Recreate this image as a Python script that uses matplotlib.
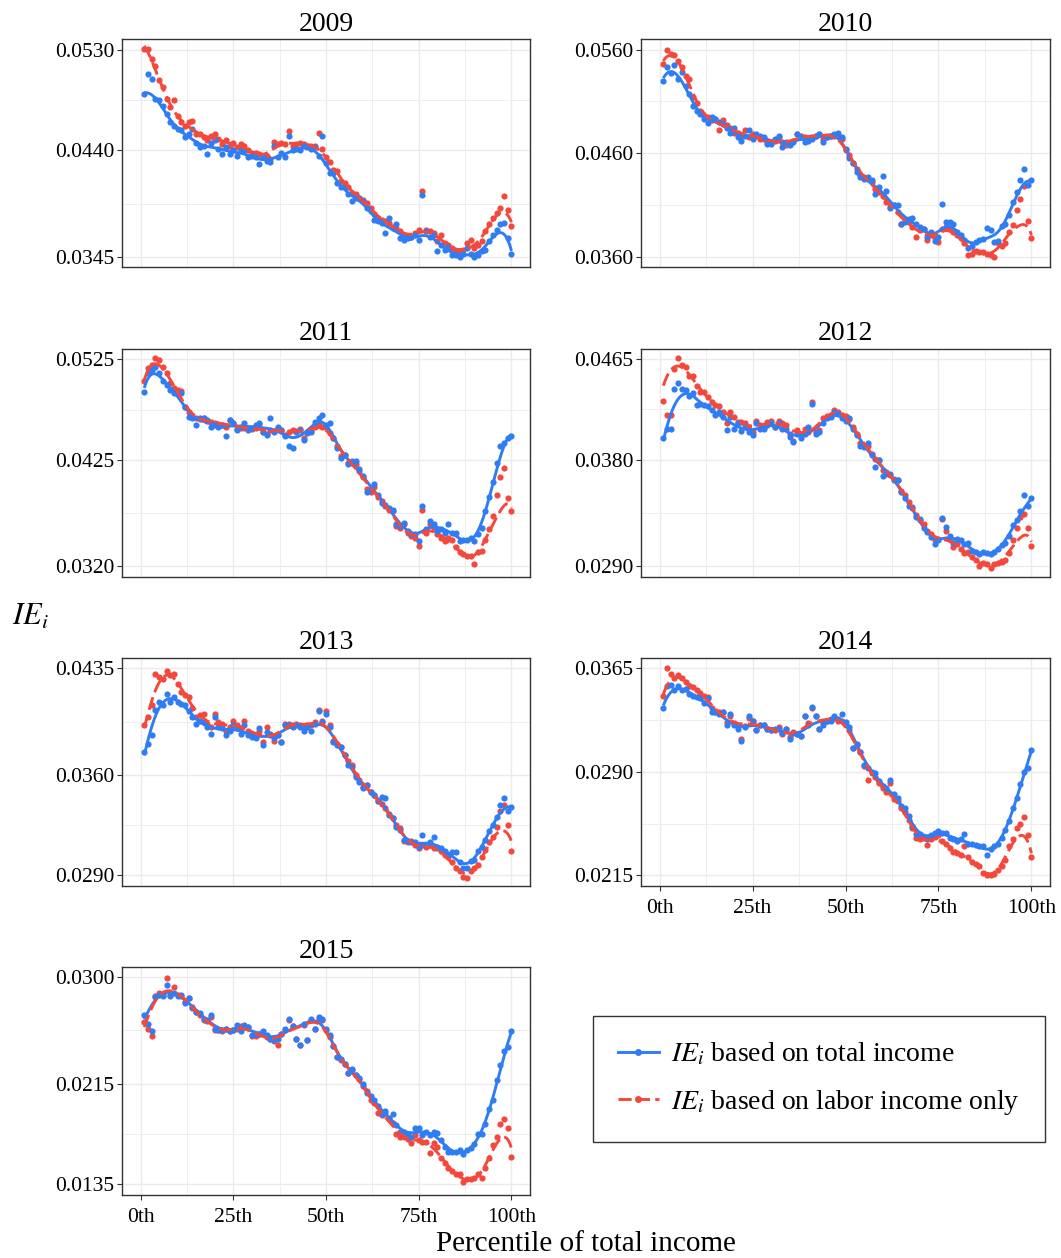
import numpy as np
import matplotlib
matplotlib.use("Agg")
import matplotlib.pyplot as plt
from matplotlib.lines import Line2D

plt.rcParams['font.family'] = ['Liberation Serif', 'DejaVu Serif']
plt.rcParams['mathtext.fontset'] = 'stix'

# values are IE_i in units of 1e-4, percentiles 1..100
pct = np.arange(1, 101)

years = ['2009', '2010', '2011', '2012', '2013', '2014', '2015']
yticks = [
    [0.0345, 0.0440, 0.0530],
    [0.0360, 0.0460, 0.0560],
    [0.0320, 0.0425, 0.0525],
    [0.0290, 0.0380, 0.0465],
    [0.0290, 0.0360, 0.0435],
    [0.0215, 0.0290, 0.0365],
    [0.0135, 0.0215, 0.0300],
]
xtick_vals = [0, 25, 50, 75, 100]
xtick_labels = ['0th', '25th', '50th', '75th', '100th']

tot_2009 = [490, 508, 504, 486, 485, 480, 473, 465, 462, 459,
            458, 452, 455, 459, 447, 443, 444, 437, 447, 449,
            441, 437, 443, 437, 440, 435, 440, 440, 434, 435,
            434, 428, 434, 431, 430, 444, 434, 438, 434, 453,
            440, 441, 440, 444, 443, 441, 443, 435, 453, 429,
            420, 420, 411, 407, 407, 401, 395, 398, 398, 395,
            389, 386, 378, 377, 375, 366, 380, 371, 374, 362,
            360, 362, 363, 365, 360, 400, 368, 363, 365, 350,
            356, 351, 354, 347, 347, 345, 348, 353, 348, 345,
            347, 350, 351, 359, 365, 369, 374, 375, 362, 348]
lab_2009 = [531, 531, 522, 515, 503, 497, 486, 479, 485, 471,
            465, 462, 465, 466, 455, 455, 452, 449, 453, 455,
            450, 446, 449, 444, 447, 443, 446, 444, 440, 438,
            438, 437, 434, 435, 432, 448, 446, 447, 446, 457,
            444, 446, 447, 446, 444, 444, 444, 456, 441, 434,
            430, 423, 422, 413, 411, 407, 402, 401, 398, 396,
            393, 389, 383, 380, 378, 377, 375, 372, 371, 368,
            365, 363, 363, 366, 369, 404, 369, 368, 366, 359,
            365, 357, 356, 353, 350, 350, 351, 357, 360, 353,
            356, 359, 368, 374, 380, 384, 389, 399, 387, 373]

tot_2010 = [530, 543, 537, 545, 532, 538, 525, 517, 506, 501,
            498, 493, 489, 495, 493, 490, 488, 484, 480, 484,
            476, 472, 477, 482, 474, 479, 477, 476, 469, 469,
            474, 477, 466, 471, 468, 471, 479, 476, 471, 472,
            474, 477, 479, 471, 476, 477, 479, 480, 476, 464,
            455, 451, 442, 437, 435, 437, 434, 421, 427, 438,
            424, 407, 410, 410, 392, 394, 397, 398, 392, 389,
            387, 379, 384, 375, 379, 411, 394, 394, 392, 384,
            381, 376, 369, 371, 374, 376, 377, 388, 386, 374,
            375, 390, 392, 400, 413, 423, 434, 445, 429, 434]
lab_2010 = [546, 560, 556, 555, 549, 543, 535, 532, 514, 509,
            501, 496, 495, 492, 493, 482, 492, 487, 484, 480,
            480, 477, 482, 476, 479, 477, 474, 474, 471, 471,
            472, 476, 471, 468, 469, 472, 479, 477, 476, 474,
            476, 477, 479, 474, 476, 477, 477, 477, 474, 463,
            458, 451, 445, 439, 437, 435, 432, 426, 423, 419,
            413, 408, 410, 403, 392, 395, 394, 389, 379, 386,
            387, 376, 381, 378, 374, 387, 389, 387, 384, 381,
            378, 373, 362, 363, 366, 365, 365, 363, 362, 360,
            373, 371, 373, 384, 391, 405, 416, 428, 395, 378]

tot_2011 = [492, 511, 514, 517, 511, 503, 499, 494, 491, 491,
            491, 478, 468, 467, 460, 467, 467, 465, 458, 460,
            458, 460, 449, 465, 462, 455, 458, 462, 455, 457,
            460, 462, 453, 450, 467, 453, 458, 455, 449, 439,
            437, 453, 455, 445, 452, 453, 463, 467, 470, 460,
            462, 447, 437, 427, 430, 421, 424, 424, 416, 409,
            394, 396, 401, 391, 383, 381, 378, 376, 362, 360,
            363, 355, 352, 352, 345, 380, 357, 365, 362, 355,
            357, 353, 362, 353, 353, 345, 346, 346, 348, 345,
            352, 358, 375, 389, 403, 422, 439, 442, 447, 449]
lab_2011 = [503, 516, 519, 526, 524, 517, 511, 501, 496, 494,
            493, 478, 473, 468, 467, 466, 467, 464, 463, 462,
            461, 460, 458, 465, 462, 456, 457, 457, 456, 456,
            457, 461, 453, 451, 455, 454, 457, 455, 450, 453,
            455, 454, 456, 447, 453, 454, 458, 460, 458, 458,
            452, 447, 439, 429, 430, 422, 422, 421, 414, 408,
            396, 394, 398, 389, 385, 380, 376, 375, 360, 358,
            362, 353, 350, 348, 340, 376, 353, 362, 358, 352,
            348, 345, 348, 346, 339, 334, 332, 330, 330, 322,
            334, 335, 346, 357, 370, 391, 408, 417, 388, 375]

tot_2012 = [398, 406, 406, 440, 445, 440, 439, 434, 436, 426,
            427, 426, 425, 422, 418, 420, 416, 405, 416, 406,
            411, 404, 409, 403, 401, 411, 406, 406, 409, 411,
            408, 411, 406, 406, 399, 395, 402, 398, 402, 408,
            427, 402, 403, 411, 415, 416, 420, 419, 415, 413,
            415, 406, 401, 392, 391, 394, 384, 374, 380, 366,
            370, 368, 363, 363, 353, 348, 341, 340, 332, 330,
            322, 319, 315, 309, 312, 331, 323, 316, 310, 313,
            312, 309, 310, 303, 302, 300, 302, 301, 300, 302,
            305, 308, 310, 316, 325, 329, 337, 350, 341, 348]
lab_2012 = [430, 418, 418, 457, 466, 460, 458, 451, 451, 442,
            437, 437, 433, 429, 426, 425, 420, 411, 420, 416,
            412, 412, 411, 406, 403, 413, 409, 408, 412, 413,
            408, 413, 411, 409, 402, 396, 405, 401, 406, 403,
            429, 403, 405, 415, 417, 418, 422, 420, 418, 417,
            414, 408, 402, 394, 392, 392, 385, 381, 380, 371,
            368, 367, 364, 363, 354, 350, 344, 339, 333, 329,
            326, 320, 317, 312, 313, 330, 320, 313, 306, 309,
            305, 301, 302, 298, 295, 290, 293, 292, 289, 292,
            293, 294, 295, 301, 312, 322, 332, 334, 322, 307]

tot_2013 = [376, 382, 388, 406, 411, 409, 417, 411, 415, 411,
            410, 409, 405, 401, 396, 398, 397, 394, 389, 401,
            394, 393, 388, 391, 395, 393, 389, 395, 388, 387,
            386, 393, 381, 390, 388, 386, 388, 383, 395, 395,
            394, 395, 394, 391, 394, 391, 396, 405, 397, 403,
            394, 383, 381, 380, 374, 367, 366, 359, 355, 351,
            353, 348, 346, 342, 345, 344, 332, 330, 324, 322,
            315, 314, 313, 313, 310, 318, 311, 313, 317, 310,
            309, 307, 304, 306, 306, 299, 295, 295, 300, 301,
            307, 310, 315, 321, 325, 331, 339, 344, 335, 338]
lab_2013 = [395, 401, 409, 431, 429, 427, 433, 430, 431, 424,
            418, 416, 415, 407, 401, 402, 403, 396, 394, 403,
            397, 396, 391, 394, 398, 395, 393, 398, 391, 389,
            388, 391, 383, 394, 389, 384, 388, 383, 396, 396,
            395, 396, 395, 394, 395, 395, 397, 406, 398, 405,
            395, 384, 382, 380, 374, 370, 367, 360, 357, 352,
            353, 348, 346, 342, 340, 337, 333, 330, 325, 323,
            314, 313, 314, 311, 309, 311, 310, 311, 309, 309,
            307, 304, 303, 299, 295, 293, 289, 288, 293, 295,
            297, 303, 308, 313, 317, 324, 335, 339, 325, 307]

tot_2014 = [336, 352, 353, 349, 352, 349, 350, 346, 345, 344,
            343, 340, 343, 333, 333, 332, 333, 324, 332, 324,
            321, 312, 322, 330, 327, 320, 324, 324, 321, 320,
            321, 321, 318, 321, 314, 318, 317, 316, 330, 324,
            337, 330, 321, 324, 327, 327, 330, 328, 332, 326,
            322, 307, 310, 304, 295, 293, 290, 289, 283, 280,
            278, 284, 274, 271, 265, 264, 258, 251, 245, 245,
            243, 241, 244, 246, 247, 246, 246, 242, 241, 240,
            241, 245, 238, 238, 237, 236, 236, 230, 234, 236,
            238, 242, 248, 254, 264, 271, 281, 290, 293, 306]
lab_2014 = [345, 365, 361, 358, 360, 358, 355, 352, 351, 349,
            347, 345, 344, 336, 333, 333, 333, 326, 330, 325,
            323, 314, 323, 329, 327, 320, 324, 324, 321, 320,
            320, 322, 317, 321, 315, 319, 317, 316, 330, 325,
            336, 330, 321, 325, 327, 328, 329, 327, 327, 324,
            320, 307, 309, 304, 294, 284, 289, 286, 282, 278,
            275, 282, 270, 269, 264, 261, 255, 249, 242, 241,
            242, 237, 241, 243, 244, 240, 238, 235, 232, 231,
            230, 236, 228, 225, 223, 222, 217, 215, 215, 216,
            219, 222, 226, 236, 241, 249, 252, 257, 244, 228]

tot_2015 = [270, 263, 257, 284, 286, 285, 294, 285, 287, 285,
            286, 279, 283, 276, 272, 271, 267, 266, 270, 259,
            258, 258, 259, 257, 258, 262, 257, 262, 260, 254,
            255, 255, 257, 254, 251, 250, 251, 255, 259, 267,
            261, 251, 246, 263, 250, 267, 259, 268, 267, 259,
            254, 245, 236, 235, 231, 224, 227, 222, 220, 215,
            208, 205, 202, 197, 191, 193, 188, 191, 182, 177,
            177, 174, 173, 180, 180, 174, 177, 174, 177, 176,
            170, 165, 161, 161, 161, 162, 159, 162, 164, 167,
            175, 175, 183, 195, 202, 218, 230, 241, 244, 257]
lab_2015 = [264, 259, 253, 285, 287, 286, 299, 286, 292, 286,
            285, 280, 283, 275, 272, 270, 266, 265, 268, 258,
            258, 257, 259, 257, 258, 259, 261, 261, 260, 253,
            253, 255, 255, 252, 251, 249, 246, 255, 258, 266,
            261, 251, 246, 262, 250, 266, 259, 267, 266, 258,
            252, 245, 236, 234, 231, 224, 226, 222, 219, 213,
            209, 202, 200, 192, 190, 192, 187, 184, 175, 173,
            173, 171, 168, 174, 170, 169, 169, 160, 168, 165,
            156, 152, 148, 146, 143, 143, 137, 139, 139, 140,
            143, 140, 148, 156, 166, 173, 183, 187, 180, 157]

total_series = [tot_2009, tot_2010, tot_2011, tot_2012, tot_2013, tot_2014, tot_2015]
labor_series = [lab_2009, lab_2010, lab_2011, lab_2012, lab_2013, lab_2014, lab_2015]

BLUE = '#2F7DF5'
RED = '#F5483C'
GRID = '#EBEBEB'


def local_fit(x, y, xs, bw, rw):
    out = np.empty(len(xs))
    for i, x0 in enumerate(xs):
        w = np.exp(-0.5 * ((x - x0) / bw) ** 2) * rw
        X = np.vstack([np.ones_like(x), x - x0, (x - x0) ** 2]).T
        sw = np.sqrt(w)
        coef = np.linalg.lstsq(X * sw[:, None], y * sw, rcond=None)[0]
        out[i] = coef[0]
    return out


def smooth(x, y, xs, bw=3.0, iters=2):
    # kernel local quadratic with a couple of robustness passes
    rw = np.ones_like(y)
    for _ in range(iters):
        res = y - local_fit(x, y, x, bw, rw)
        s = 6 * np.median(np.abs(res)) + 1e-9
        u = res / s
        rw = np.where(np.abs(u) < 1, (1 - u ** 2) ** 2, 0.0)
    return local_fit(x, y, xs, bw, rw)


W, H = 1061, 1258
fig = plt.figure(figsize=(W / 100, H / 100), dpi=100)

col_x = [(122, 408), (641, 409)]
row_top = [39.3, 348.7, 657.7, 966.7]
ax_h = 228

xs = np.linspace(1, 100, 397)
x = pct.astype(float)

for k, year in enumerate(years):
    r, c = k // 2, k % 2
    left, width = col_x[c]
    top = row_top[r]
    ax = fig.add_axes([left / W, (H - top - ax_h) / H, width / W, ax_h / H])

    yt = yticks[k]
    lo, hi = yt[0], yt[-1]
    pad = 0.05 * (hi - lo)
    ax.set_ylim(lo - pad, hi + pad)
    ax.set_xlim(-5, 105)

    ax.set_yticks(yt)
    ax.set_yticklabels([f'{v:.4f}' for v in yt])
    ax.set_yticks([(yt[0] + yt[1]) / 2, (yt[1] + yt[2]) / 2], minor=True)
    ax.set_xticks(xtick_vals)
    ax.set_xticks([12.5, 37.5, 62.5, 87.5], minor=True)

    show_x = year in ('2014', '2015')
    if show_x:
        ax.set_xticklabels(xtick_labels)
    else:
        ax.set_xticklabels([])

    ax.grid(True, which='major', color=GRID, lw=1.0, zorder=0)
    ax.grid(True, which='minor', color=GRID, lw=0.6, zorder=0)
    ax.set_axisbelow(True)

    ax.tick_params(axis='y', which='major', length=3.5, width=0.8, color='#333333',
                   labelsize=15.5, pad=2, labelcolor='black')
    ax.tick_params(axis='x', which='major', length=3.5 if show_x else 0, width=0.8,
                   color='#333333', labelsize=15.5, pad=6, labelcolor='black')
    ax.tick_params(which='minor', length=0)
    for sp in ax.spines.values():
        sp.set_color('#333333')
        sp.set_linewidth(1.0)

    yt_tot = np.array(total_series[k], dtype=float)
    yt_lab = np.array(labor_series[k], dtype=float)

    ax.scatter(x, yt_lab * 1e-4, s=20, color=RED, lw=0, zorder=2)
    ax.scatter(x, yt_tot * 1e-4, s=20, color=BLUE, lw=0, zorder=3)

    sm_tot = smooth(x, yt_tot, xs)
    sm_lab = smooth(x, yt_lab, xs)
    ax.plot(xs, sm_tot * 1e-4, color=BLUE, lw=2.1, zorder=4, solid_capstyle='butt')
    ax.plot(xs, sm_lab * 1e-4, color=RED, lw=2.1, zorder=5, dashes=(4.5, 1.8), dash_capstyle='butt')

    ax.set_title(year, fontsize=20, pad=6)

fig.text(12 / W, 1 - 617 / H, r'$IE_i$', fontsize=22, ha='left', va='center')
fig.text(586 / W, 1 - 1244 / H, 'Percentile of total income', fontsize=21,
         ha='center', va='center')

handles = [
    Line2D([0], [0], color=BLUE, lw=2.1, marker='o', markersize=4),
    Line2D([0], [0], color=RED, lw=2.1, marker='o', markersize=4, dashes=(4.5, 1.8)),
]
labels = [r'$IE_i$ based on total income', r'$IE_i$ based on labor income only']
leg = fig.legend(handles, labels, loc='center', bbox_to_anchor=(819 / W, 1 - 1079 / H),
                 fontsize=20, frameon=True, fancybox=False, numpoints=1,
                 handlelength=1.45, handletextpad=0.45, borderpad=0.9,
                 labelspacing=0.75, borderaxespad=0)
leg.get_frame().set_edgecolor('black')
leg.get_frame().set_linewidth(1.0)

fig.savefig('out.png', dpi=100)
